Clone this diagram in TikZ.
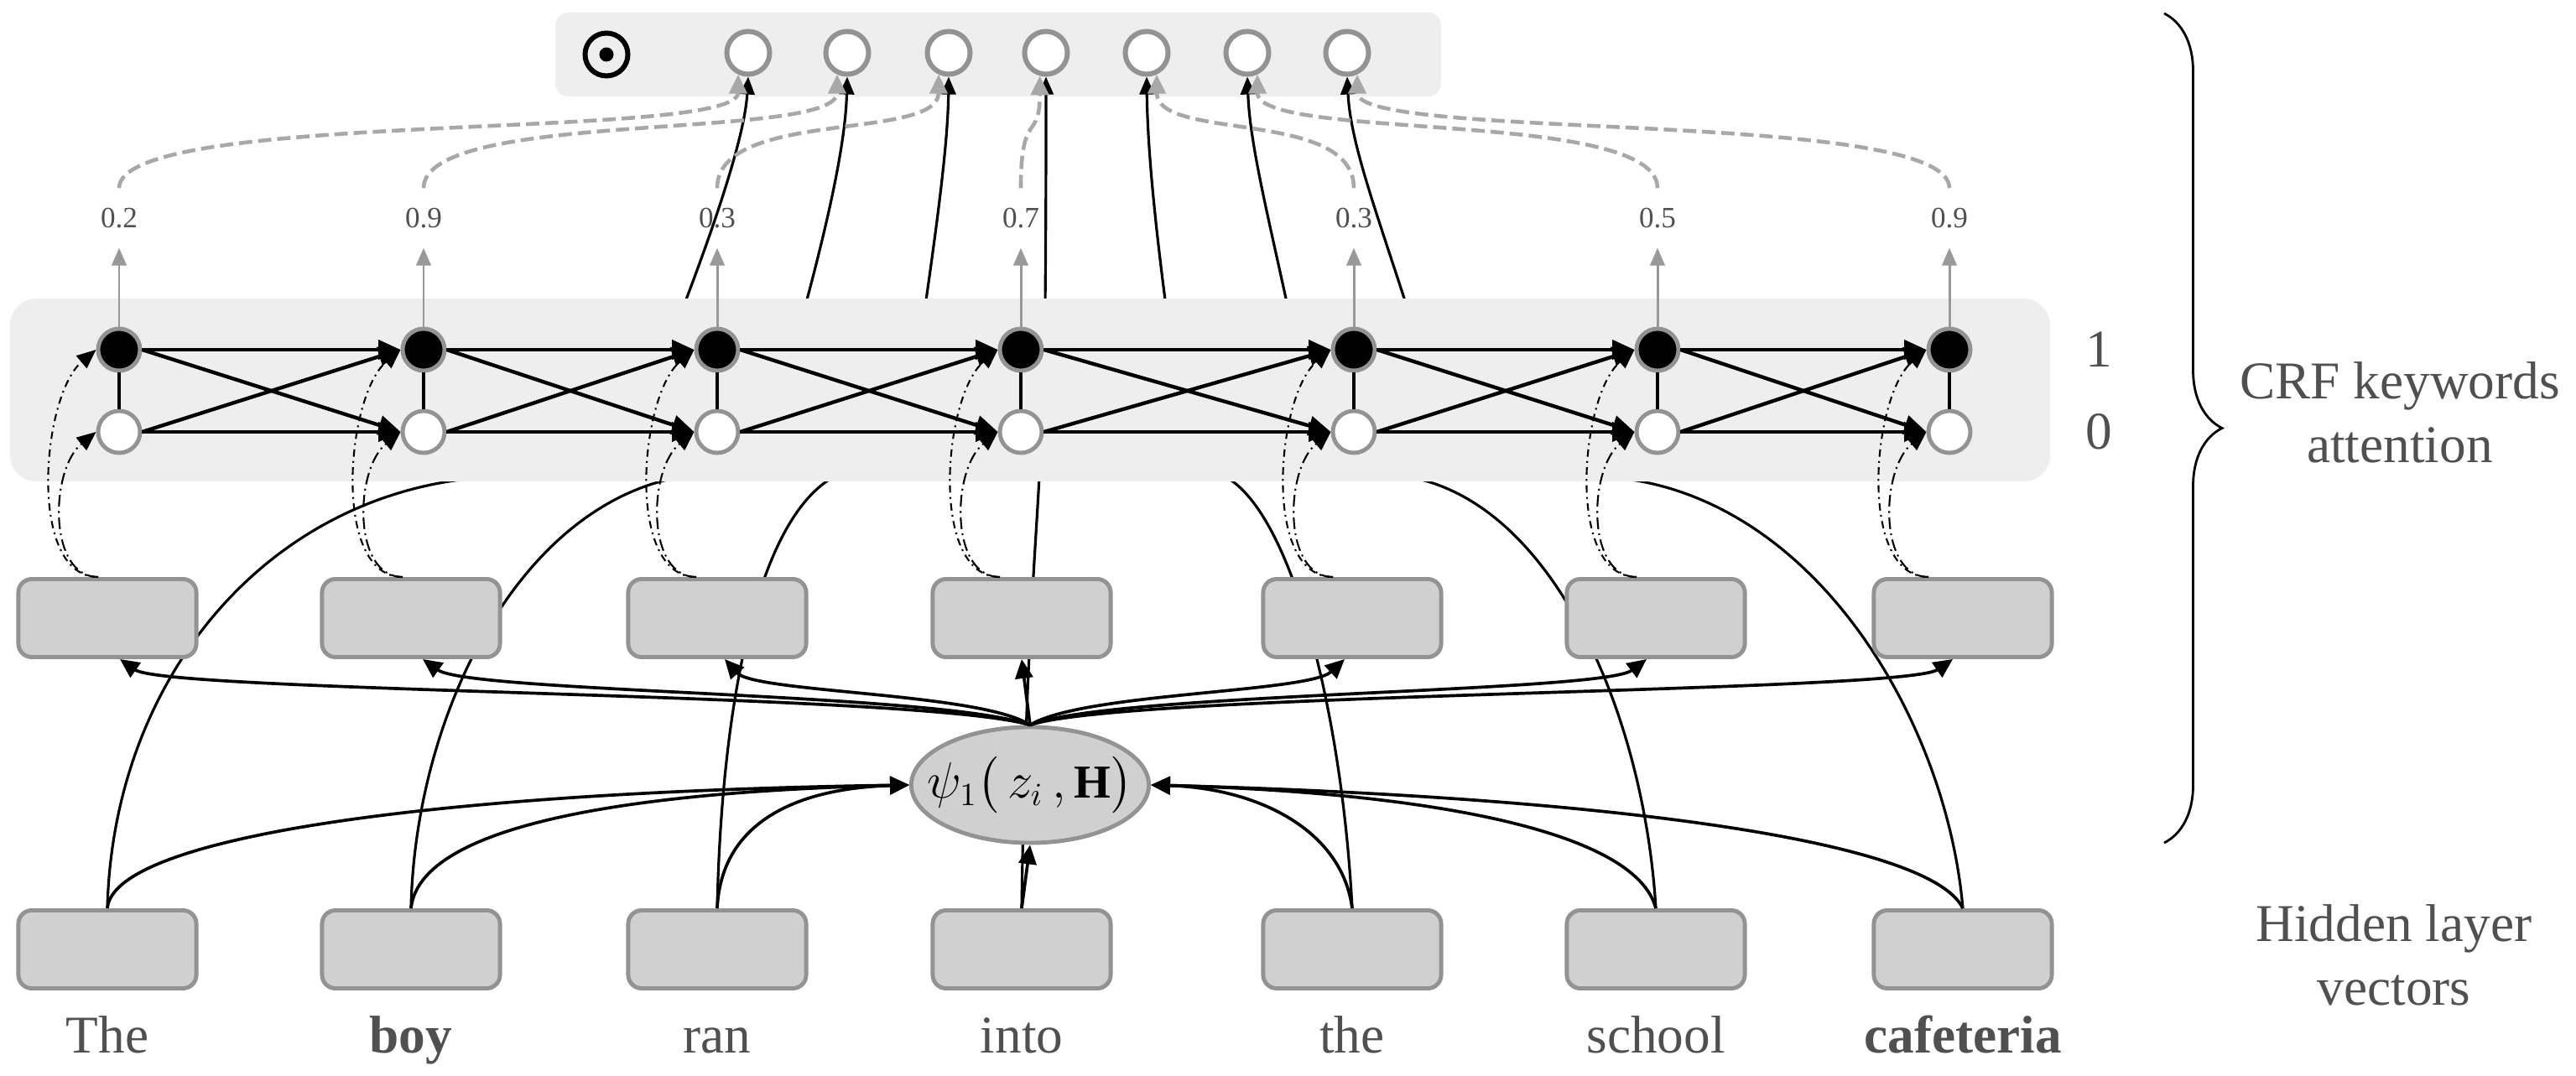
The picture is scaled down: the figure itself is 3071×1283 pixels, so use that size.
\documentclass[tikz,border=0pt]{standalone}
\usepackage{amsmath,amssymb}
\usepackage{bm}
\usepackage{xcolor}
\usepackage{fontspec}
\setmainfont{Liberation Serif}
\usepackage{tikz}
\usetikzlibrary{arrows.meta,positioning,calc,decorations.pathreplacing,shapes.geometric}

\definecolor{panelgray}{HTML}{EEEEEE}
\definecolor{boxgray}{HTML}{D0D0D0}
\definecolor{edgegray}{HTML}{939393}
\definecolor{textgray}{HTML}{505050}
\definecolor{valgray}{HTML}{999999}
\definecolor{dashgray}{HTML}{A8A8A8}

\pgfdeclarelayer{topbg}
\pgfdeclarelayer{curves}
\pgfdeclarelayer{panelbg}
\pgfsetlayers{topbg,curves,panelbg,main}

\tikzset{
  hidbox/.style={draw=edgegray, fill=boxgray, line width=1.4pt, rounded corners=0.16cm, minimum width=2.12cm, minimum height=0.93cm, inner sep=0pt},
  psinode/.style={ellipse, draw=edgegray, fill=boxgray, line width=1.4pt, minimum width=2.83cm, minimum height=1.38cm, inner xsep=-0.6cm, inner ysep=0pt, font=\fontsize{16pt}{18pt}\selectfont},
  crfon/.style={circle, draw=edgegray, fill=black, line width=1.4pt, minimum size=0.5cm, inner sep=0pt},
  crfoff/.style={crfon, fill=white},
  outcirc/.style={circle, draw=edgegray, fill=white, line width=1.7pt, minimum size=0.51cm, inner sep=0pt},
  odotnode/.style={circle, draw=black, line width=1.7pt, minimum size=0.51cm, inner sep=0pt},
  panelbox/.style={rectangle, fill=panelgray, inner sep=0pt},
  wordtext/.style={anchor=base, text=textgray, font=\fontsize{18pt}{22pt}\selectfont},
  sidetext/.style={text=textgray, align=center, font=\fontsize{18pt}{21.7pt}\selectfont},
  valtext/.style={text=textgray, inner sep=0.23cm, font=\fontsize{10pt}{12pt}\selectfont},
  crfedge/.style={>={Triangle[length=7.5pt,width=6.5pt]}, ->, line width=1.25pt},
  feedline/.style={>={Triangle[length=6.5pt,width=6pt]}, ->, line width=1.05pt},
  longline/.style={>={Triangle[length=6pt,width=5pt]}, ->, line width=0.9pt},
  valarrow/.style={>={Triangle[length=6pt,width=5pt]}, ->, draw=valgray, line width=0.85pt},
  dashgrey/.style={>={Triangle[length=6.5pt,width=6pt]}, ->, draw=dashgray, line width=1.3pt, dash pattern=on 4.5pt off 2pt},
  dotouter/.style={>={Triangle[length=6.5pt,width=5.5pt]}, ->, line width=0.6pt, dash pattern=on 2.5pt off 1.5pt on 0.6pt off 1.5pt},
  dotinner/.style={dotouter, dash pattern=on 4pt off 1.5pt on 0.6pt off 1.5pt},
}

\begin{document}
\begin{tikzpicture}[x=0.01cm, y=-0.01cm]
  \useasboundingbox (0,0) rectangle (3071,1283);

  % shaded backgrounds
  \begin{pgfonlayer}{topbg}
    \node[panelbox, minimum width=10.55cm, minimum height=1cm, rounded corners=0.15cm] (outbox) at (1190,65) {};
  \end{pgfonlayer}
  \begin{pgfonlayer}{panelbg}
    \node[panelbox, minimum width=24.31cm, minimum height=2.18cm, rounded corners=0.32cm] (crfpanel) at (1228,465) {};
  \end{pgfonlayer}

  % output row
  \node[odotnode] (odot) at (723,65) {};
  \fill (odot.center) circle[radius=0.085cm];

  % columns
  \foreach \i/\bx/\nx/\cx/\val/\word in {1/128/142/892/0.2/The, 2/490/505/1010/0.9/{\textbf{boy}}, 3/855/855/1131/0.3/ran, 4/1218/1217/1247/0.7/into, 5/1612/1614/1367/0.3/the, 6/1974/1976/1487/0.5/school, 7/2340/2324/1606/0.9/{\textbf{cafeteria}}}{
    \node[hidbox] (h\i) at (\bx,1132) {};
    \node[hidbox] (m\i) at (\bx,737) {};
    \node[wordtext] (w\i) at (\bx,1256) {\word};
    \node[crfon] (t\i) at (\nx,417) {};
    \node[crfoff] (b\i) at (\nx,515) {};
    \node[valtext] (v\i) at (\nx,260) {\val};
    \node[outcirc] (c\i) at (\cx,63) {};
    \draw[line width=1.1pt] (t\i) -- (b\i);
    \draw[valarrow] (t\i) -- (v\i);
  }

  \node[psinode] (psi) at (1228,936) {$\psi_1\bigl(\,z_i\,,\mathbf{H}\bigr)$};

  % side labels
  \node[sidetext] (lab1) at (2502,417) {1};
  \node[sidetext] (lab0) at (2502,515) {0};
  \node[sidetext] (crflab) at (2861,492) {CRF keywords\\attention};
  \node[sidetext] (hidlab) at (2854,1139) {Hidden layer\\vectors};
  \coordinate (bracetop) at (2580,16);
  \coordinate (bracebot) at (2580,1005);
  \draw[decorate, decoration={brace, amplitude=0.69cm}, line width=0.8pt] (bracetop) -- (bracebot);

  % CRF transitions
  \foreach \i [count=\j from 2] in {1,...,6}{
    \draw[crfedge] (t\i.east) -- (t\j.west);
    \draw[crfedge] (t\i.east) -- (b\j.west);
    \draw[crfedge] (b\i.east) -- (t\j.west);
    \draw[crfedge] (b\i.east) -- (b\j.west);
  }

  % unary inputs
  \foreach \i in {1,...,7}{
    \coordinate (s\i) at ($(t\i |- m\i.north)+(-25,0)$);
    \draw[dotouter] (s\i) .. controls +(-85,0) and +(-65,55) .. (t\i.west);
    \draw[dotinner] (s\i) .. controls +(-60,0) and +(-55,45) .. (b\i.west);
  }

  % attention weights to output
  \foreach \i/\ang in {1/-115,2/-115,3/-115,4/-105,5/-65,6/-65,7/-65}{
    \draw[dashgrey] (v\i.north) .. controls +(0,-95) and +(0,80) .. (c\i.\ang);
  }

  % hidden vectors into psi
  \draw[feedline] (h1.north) .. controls (135,1000) and (500,945) .. (psi.west);
  \draw[feedline] (h2.north) .. controls (500,990) and (720,945) .. (psi.west);
  \draw[feedline] (h3.north) .. controls (860,980) and (950,940) .. (psi.west);
  \draw[feedline] (h4.north) -- (psi.south);
  \draw[feedline] (h5.north) .. controls (1600,990) and (1500,940) .. (psi.east);
  \draw[feedline] (h6.north) .. controls (1950,990) and (1700,945) .. (psi.east);
  \draw[feedline] (h7.north) .. controls (2300,1000) and (1900,950) .. (psi.east);

  % psi out to the boxes
  \foreach \i/\dx/\ctla/\ctlb in {1/15/1100/200, 2/14/1120/560, 3/9/1170/900, 5/-9/1290/1560, 6/-11/1320/1910, 7/-12/1340/2270}{
    \draw[feedline] (psi.north) .. controls (\ctla,826) and (\ctlb,826) .. ($(m\i.south)+(\dx,0)$);
  }
  \draw[feedline] (psi.north) -- (m4.south);

  % hidden vectors straight to output (behind)
  \begin{pgfonlayer}{curves}
    \draw[longline] (h1.north) .. controls (135,800) and (330,575) .. (600,568) -- (815,365) .. controls (855,260) and (888,160) .. (c1.south);
    \draw[longline] (h2.north) .. controls (495,850) and (620,600) .. (815,568) -- (960,365) .. controls (988,260) and (1008,170) .. (c2.south);
    \draw[longline] (h3.north) .. controls (860,850) and (900,620) .. (995,568) -- (1103,365) .. controls (1118,260) and (1130,170) .. (c3.south);
    \draw[longline] (h4.north) .. controls (1222,800) and (1235,650) .. (1239,568) -- (1246,365) .. controls (1247,260) and (1247,170) .. (c4.south);
    \draw[longline] (h5.north) .. controls (1600,850) and (1540,610) .. (1460,568) -- (1390,365) .. controls (1375,250) and (1368,170) .. (c5.south);
    \draw[longline] (h6.north) .. controls (1960,850) and (1850,595) .. (1675,568) -- (1535,365) .. controls (1510,250) and (1490,170) .. (c6.south);
    \draw[longline] (h7.north) .. controls (2320,850) and (2150,570) .. (1895,568) -- (1677,365) .. controls (1640,250) and (1610,170) .. (c7.south);
  \end{pgfonlayer}
\end{tikzpicture}
\end{document}
